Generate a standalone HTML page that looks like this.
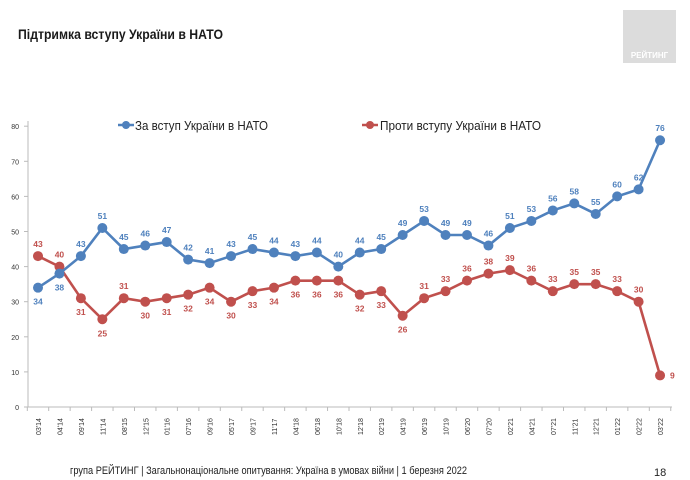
<!DOCTYPE html>
<html><head><meta charset="utf-8"><style>
body{margin:0;background:#fff;}
svg{display:block;font-family:"Liberation Sans","DejaVu Sans",sans-serif;}
</style></head><body>
<svg id="s" width="690" height="480" viewBox="0 0 690 480" xmlns="http://www.w3.org/2000/svg">
<rect width="690" height="480" fill="#fff"/>
<text x="18" y="39" font-size="14" font-weight="bold" fill="#1a1a1a" textLength="205" lengthAdjust="spacingAndGlyphs">Підтримка вступу України в НАТО</text>
<rect x="623" y="10" width="53" height="53" fill="#dcdcdc"/>
<text x="649.5" y="58" font-size="8" font-weight="bold" fill="#fff" text-anchor="middle">РЕЙТИНГ</text>
<g id="g"></g>
<line x1="118" y1="125" x2="134" y2="125" stroke="#4f81bd" stroke-width="2.5"/><circle cx="126" cy="125" r="4" fill="#4f81bd"/>
<text x="135" y="130" font-size="12.5" fill="#222" textLength="133" lengthAdjust="spacingAndGlyphs">За вступ України в НАТО</text>
<line x1="362" y1="125" x2="378" y2="125" stroke="#c0504d" stroke-width="2.5"/><circle cx="370" cy="125" r="4" fill="#c0504d"/>
<text x="380" y="130" font-size="12.5" fill="#222" textLength="161" lengthAdjust="spacingAndGlyphs">Проти вступу України в НАТО</text>
<text x="70" y="474" font-size="11" fill="#222" textLength="397" lengthAdjust="spacingAndGlyphs">група РЕЙТИНГ | Загальнонаціональне опитування: Україна в умовах війни | 1 березня 2022</text>
<text x="654" y="476" font-size="11" fill="#222">18</text>
</svg>
<script>
var g=document.getElementById('g'),h='';
var B=[34,38,43,51,45,46,47,42,41,43,45,44,43,44,40,44,45,49,53,49,49,46,51,53,56,58,55,60,62,76];
var R=[43,40,31,25,31,30,31,32,34,30,33,34,36,36,36,32,33,26,31,33,36,38,39,36,33,35,35,33,30,9];
var L=["03'14","04'14","09'14","11'14","08'15","12'15","01'16","07'16","09'16","05'17","09'17","11'17","04'18","06'18","10'18","12'18","02'19","04'19","06'19","10'19","06'20","07'20","02'21","04'21","07'21","11'21","12'21","01'22","02'22","03'22"];
var rAbove={0:1,1:1,4:1};for(var k=18;k<29;k++)rAbove[k]=1;
function X(i){return 38+i*21.45;}function Y(v){return 407-v*3.51;}
h+='<line x1="28" y1="121" x2="28" y2="407" stroke="#bbb"/><line x1="28" y1="407" x2="672" y2="407" stroke="#bbb"/>';
for(var v=0;v<=80;v+=10){h+='<line x1="24" y1="'+Y(v)+'" x2="28" y2="'+Y(v)+'" stroke="#bbb"/><text x="19" y="'+(Y(v)+3)+'" font-size="7" fill="#333" text-anchor="end">'+v+'</text>';}
for(var i=0;i<30;i++){var x=X(i);h+='<line x1="'+(x+10.7)+'" y1="407" x2="'+(x+10.7)+'" y2="411" stroke="#bbb"/>';if(i==0)h+='<line x1="'+(x-10.7)+'" y1="407" x2="'+(x-10.7)+'" y2="411" stroke="#bbb"/>';
h+='<text transform="translate('+(x+3)+',435) rotate(-90)" font-size="7" fill="#333">'+L[i]+'</text>';}
function ser(D,c){var p='';for(var i=0;i<30;i++)p+=(i?'L':'M')+X(i)+' '+Y(D[i]);var s='<path d="'+p+'" fill="none" stroke="'+c+'" stroke-width="2.6"/>';for(i=0;i<30;i++)s+='<circle cx="'+X(i)+'" cy="'+Y(D[i])+'" r="5" fill="'+c+'"/>';return s;}
h+=ser(R,'#c0504d')+ser(B,'#4f81bd');
for(i=0;i<30;i++){var x=X(i),y=Y(B[i]);var ly=(i<2)?y+17:y-9;h+='<text x="'+x+'" y="'+ly+'" font-size="8.5" font-weight="bold" fill="#4f81bd" text-anchor="middle">'+B[i]+'</text>';
y=Y(R[i]);if(i==29){h+='<text x="'+(x+10)+'" y="'+(y+3)+'" font-size="8.5" font-weight="bold" fill="#c0504d">9</text>';continue;}
ly=rAbove[i]?y-9:y+17;h+='<text x="'+x+'" y="'+ly+'" font-size="8.5" font-weight="bold" fill="#c0504d" text-anchor="middle">'+R[i]+'</text>';}
g.innerHTML=h;
</script>
</body></html>
